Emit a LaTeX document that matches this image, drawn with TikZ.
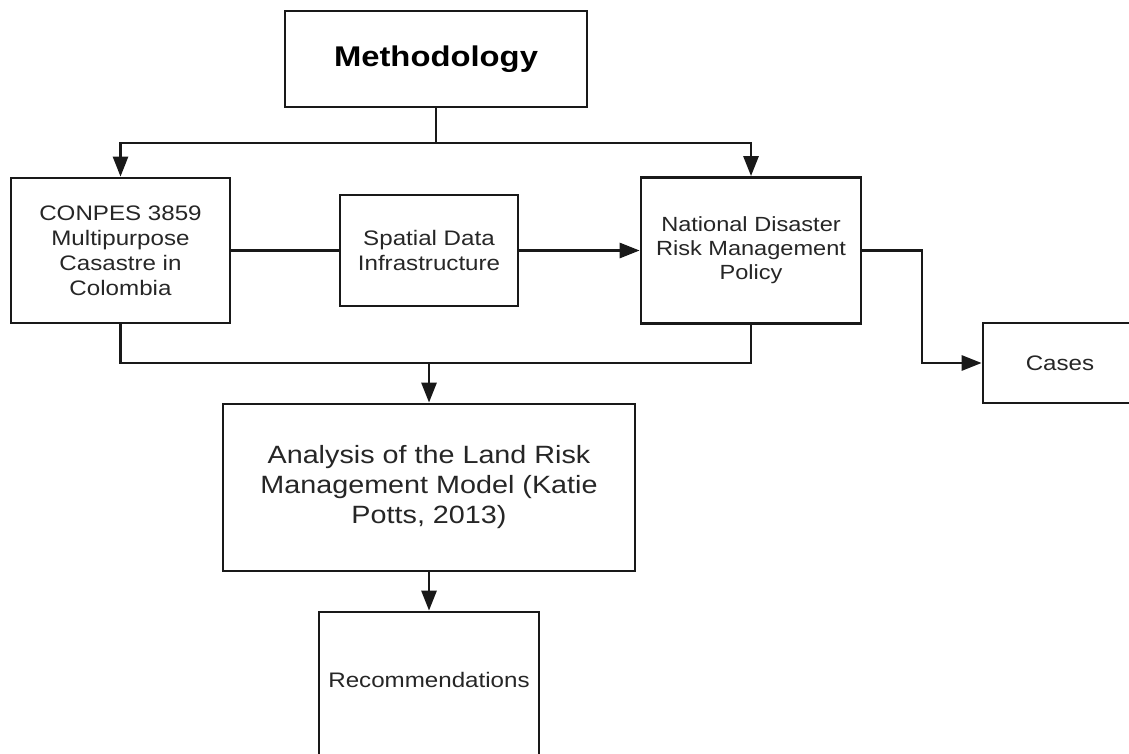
\documentclass[tikz,border=0pt]{standalone}
\usepackage{fontspec}
\setmainfont{Liberation Sans}[FakeStretch=1.15]
\usetikzlibrary{arrows.meta}
\begin{document}
\begin{tikzpicture}[x=1pt,y=-1pt,
  box/.style={draw=black!90, line width=2.8pt, inner sep=0pt, align=center},
  txt/.style={font=\fontsize{21}{25}\selectfont, text=black!85},
  link/.style={draw=black!90, line width=2.8pt},
  arr/.style={link, -{Triangle[length=20pt,width=15pt]}}]
\clip (0,0) rectangle (1129,754);
\fill[white] (0,0) rectangle (1129,754);
% boxes
\node[box, minimum width=302, minimum height=96, font=\bfseries\fontsize{28.5}{32}\selectfont] (meth) at (436,59) {Methodology};
\node[box, txt, minimum width=219, minimum height=145] (conpes) at (120.5,250.5) {CONPES 3859\\Multipurpose\\Casastre in\\Colombia};
\node[box, txt, minimum width=178, minimum height=111] (sdi) at (429,250.5) {Spatial Data\\Infrastructure};
\node[box, txt, minimum width=220, minimum height=146, font=\fontsize{20.5}{24}\selectfont] (nat) at (751,250.5) {National Disaster\\Risk Management\\Policy};
\node[box, minimum width=157, minimum height=80] (cases) at (1061.5,363) {};
\node[txt] (casestxt) at (1060,363) {Cases};
\node[box, minimum width=412, minimum height=167, font=\fontsize{25}{30}\selectfont, text=black!85] (ana) at (429,487.5) {Analysis of the Land Risk\\Management Model (Katie\\Potts, 2013)};
\node[box, minimum width=220, minimum height=168] (rec) at (429,696) {};
\node[txt] (rectxt) at (429,680) {Recommendations};
% connectors
\coordinate (j1) at (436,143);
\coordinate (b1) at (429,363);
\coordinate (c1) at (922,363);
\draw[link] (meth.south) -- (j1);
\draw[arr] (j1) -| (conpes.north);
\draw[arr] (j1) -| (nat.north);
\draw[link] (conpes.east) -- (sdi.west);
\draw[arr] (sdi.east) -- (nat.west);
\draw[link] (conpes.south) |- (b1) -| (nat.south);
\draw[arr] (b1) -- (ana.north);
\draw[arr] (ana.south) -- (rec.north);
\draw[arr] (nat.east) -| (c1) -- (cases.west);
\end{tikzpicture}
\end{document}
